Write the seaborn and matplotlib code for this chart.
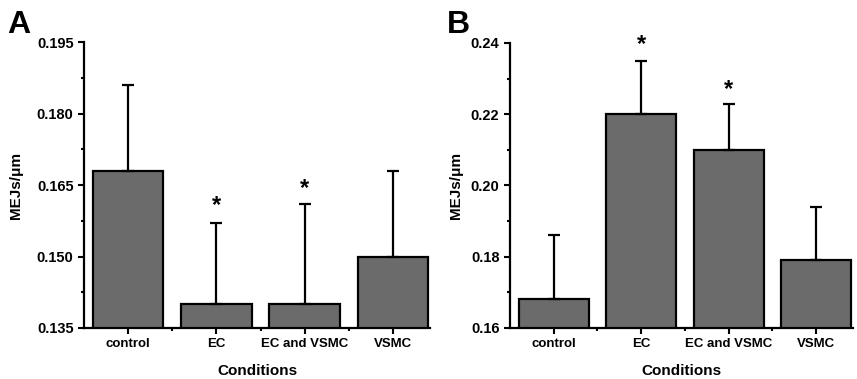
import numpy as np
import pandas as pd
import seaborn as sns
import matplotlib.pyplot as plt
import matplotlib.ticker as ticker

# data
conditions = ['control', 'EC', 'EC and VSMC', 'VSMC']

mejs_a = [0.168, 0.140, 0.140, 0.150]
err_a = [0.018, 0.017, 0.021, 0.018]
star_a = [None, 0.1607, 0.1643, None]

mejs_b = [0.168, 0.220, 0.210, 0.179]
err_b = [0.018, 0.015, 0.013, 0.015]
star_b = [None, 0.2397, 0.2269, None]

sns.set_style('ticks')
plt.rcParams['font.family'] = ['Liberation Sans', 'DejaVu Sans']
plt.rcParams['font.weight'] = 'bold'
plt.rcParams['text.color'] = 'black'
plt.rcParams['axes.labelcolor'] = 'black'
plt.rcParams['xtick.color'] = 'black'
plt.rcParams['ytick.color'] = 'black'
plt.rcParams['axes.edgecolor'] = 'black'

fig = plt.figure(figsize=(8.57, 3.79), dpi=100)
ax_a = fig.add_axes([0.098, 0.1346, 0.404, 0.754])
ax_b = fig.add_axes([0.595, 0.1346, 0.400, 0.752])


def draw_panel(ax, vals, errs, stars, ylim, step, label_x):
    df = pd.DataFrame({'cond': conditions, 'val': vals})
    sns.barplot(data=df, x='cond', y='val', color='#6b6b6b', saturation=1,
                edgecolor='black', linewidth=1.6, width=0.8, ax=ax)
    x = np.arange(len(vals))
    ax.errorbar(x, vals, yerr=[np.zeros(len(vals)), errs], fmt='none',
                ecolor='black', elinewidth=1.6, capsize=4, capthick=1.6, zorder=3)
    for xi, s in zip(x, stars):
        if s is not None:
            ax.text(xi, s, '*', ha='center', va='center', fontsize=17, fontweight='bold')

    ax.set_ylim(*ylim)
    ax.set_xlim(-0.5, 3.42)
    ax.set_yticks(np.arange(ylim[0], ylim[1] + step / 2, step))
    ax.yaxis.set_minor_locator(ticker.AutoMinorLocator(2))
    ax.xaxis.set_minor_locator(ticker.FixedLocator([0.5, 1.5, 2.5]))
    ax.tick_params(which='major', length=4, width=1.5, direction='out')
    ax.tick_params(axis='x', labelsize=9.5)
    ax.tick_params(axis='y', labelsize=10.5)
    ax.tick_params(which='minor', length=2.5, width=1.5, direction='out')
    for lab in ax.get_xticklabels() + ax.get_yticklabels():
        lab.set_fontweight('bold')

    sns.despine(ax=ax)
    for sp in ['left', 'bottom']:
        ax.spines[sp].set_linewidth(1.6)

    ax.set_xlabel('Conditions', fontsize=11, fontweight='bold', labelpad=10)
    ax.set_ylabel('MEJs/μm', fontsize=11, fontweight='bold')
    ax.yaxis.set_label_coords(label_x, 0.5)


draw_panel(ax_a, mejs_a, err_a, star_a, (0.135, 0.195), 0.015, -0.176)
ax_a.yaxis.set_major_formatter(ticker.FormatStrFormatter('%.3f'))
draw_panel(ax_b, mejs_b, err_b, star_b, (0.16, 0.24), 0.02, -0.137)
ax_b.yaxis.set_major_formatter(ticker.FormatStrFormatter('%.2f'))

fig.text(0.008, 0.913, 'A', fontsize=23, fontweight='bold')
fig.text(0.521, 0.913, 'B', fontsize=23, fontweight='bold')

fig.savefig('out.png', dpi=100)
